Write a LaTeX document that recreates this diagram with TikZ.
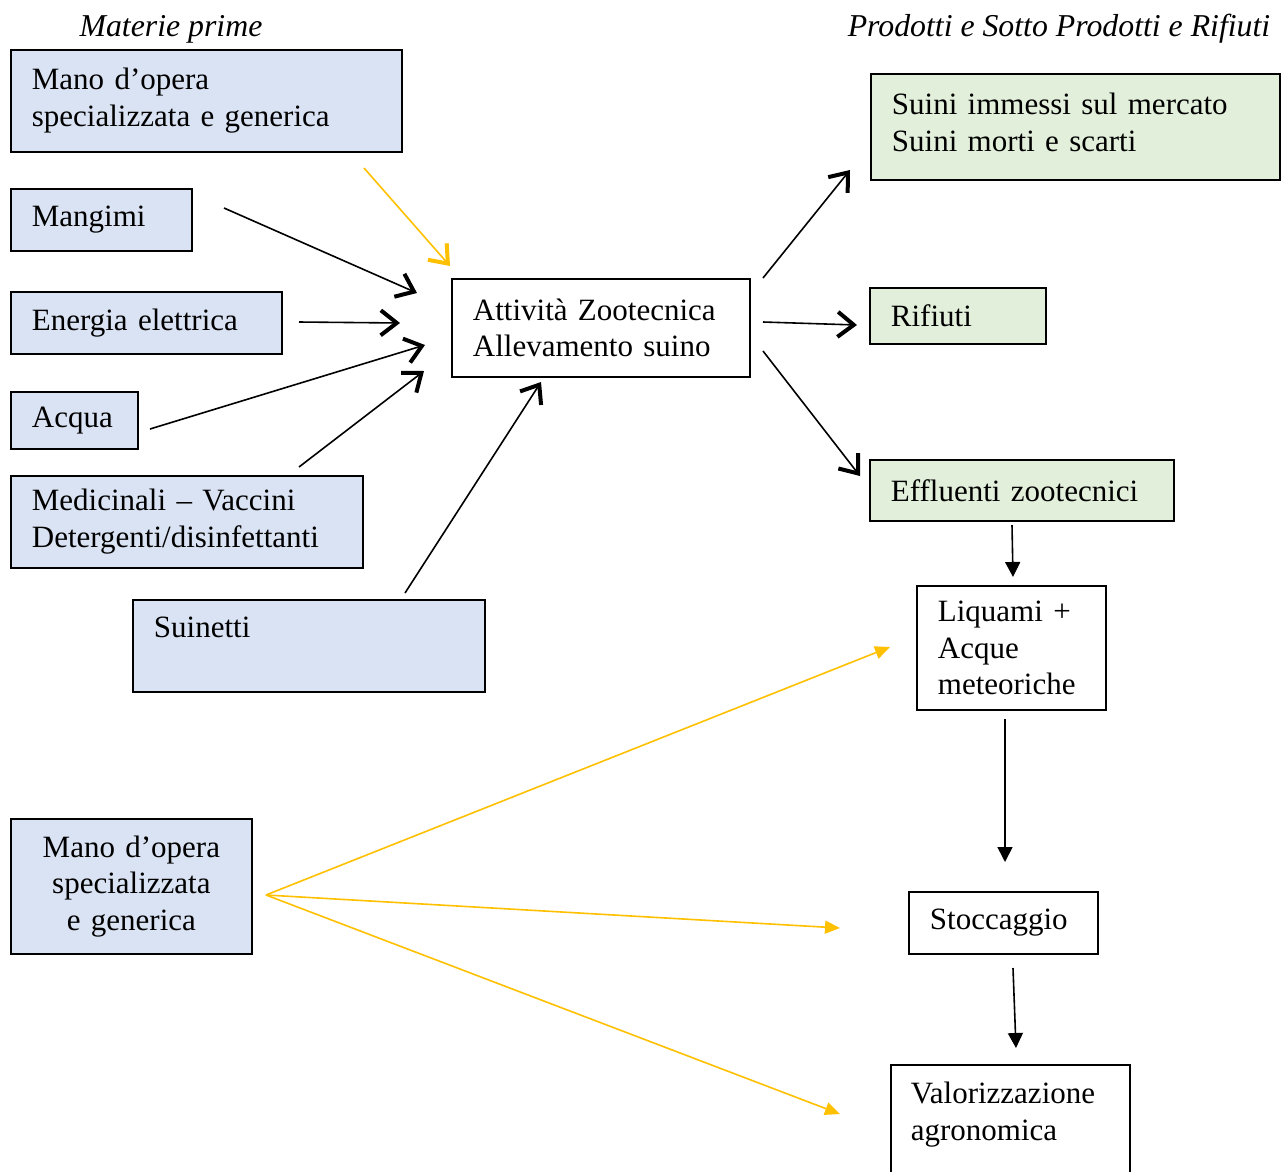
\documentclass[tikz,border=0pt]{standalone}
\usepackage{fontspec}
\setmainfont{Liberation Serif}
\usetikzlibrary{arrows.meta}
\definecolor{bluebox}{HTML}{DAE3F3}
\definecolor{greenbox}{HTML}{E2EFDA}
\definecolor{ylw}{HTML}{FFC000}
\begin{document}
\begin{tikzpicture}[x=1pt,y=-1pt,
  bx/.style={draw, line width=1.8pt, anchor=north west, inner xsep=21pt, inner ysep=0pt,
    align=left, font=\fontsize{31}{36.8}\selectfont},
  inbox/.style={bx, fill=bluebox},
  outbox/.style={bx, fill=greenbox},
  hdr/.style={font=\fontsize{31.8}{36}\selectfont\itshape, inner sep=0pt},
  barb/.style={line width=1.6pt, -{Straight Barb[length=16pt,width=25pt,line width=4pt]}},
  tri/.style={line width=1.6pt, -{Triangle[length=15pt,width=15pt]}},
  ytri/.style={draw=ylw, line width=1.6pt, -{Triangle[length=15pt,width=13pt]}, ylw}
]
\useasboundingbox (0,0) rectangle (1286,1171);
\clip (0,0) rectangle (1286,1171);

\node[hdr] (h1) at (171,29) {Materie prime};
\node[hdr] (h2) at (1059,29) {Prodotti e Sotto Prodotti e Rifiuti};

\node[inbox, minimum width=391pt, text width=349pt, minimum height=102pt] (m1) at (10,49) {Mano d’opera\\specializzata e generica};
\node[inbox, minimum width=181pt, text width=139pt, minimum height=62pt] (mang) at (10,188) {Mangimi};
\node[inbox, minimum width=271pt, text width=229pt, minimum height=62pt] (en) at (10,291) {Energia elettrica};
\node[inbox, minimum width=127pt, text width=85pt, minimum height=57pt] (acq) at (10,391) {Acqua};
\node[inbox, minimum width=352pt, text width=310pt, minimum height=92pt] (med) at (10,475) {Medicinali – Vaccini\\Detergenti/disinfettanti};
\node[inbox, minimum width=352pt, text width=310pt, minimum height=92pt] (suin) at (132,599) {Suinetti\\\mbox{}};
\node[bx, fill=white, minimum width=298pt, text width=256pt, minimum height=98pt] (att) at (451,278) {Attività Zootecnica\\Allevamento suino};

\node[outbox, minimum width=409pt, text width=367pt, minimum height=106pt] (sui) at (870,73) {Suini immessi sul mercato\\Suini morti e scarti\\[-26.8pt]\mbox{}};
\node[outbox, minimum width=176pt, text width=134pt, minimum height=56pt] (rif) at (869,287) {Rifiuti};
\node[outbox, minimum width=304pt, text width=262pt, minimum height=61pt] (eff) at (869,459) {Effluenti zootecnici};

\node[bx, minimum width=189pt, text width=147pt, minimum height=124pt] (liq) at (916,585) {Liquami +\\Acque\\meteoriche};
\node[bx, minimum width=189pt, text width=147pt, minimum height=62pt] (sto) at (908,891) {Stoccaggio};
\node[bx, minimum width=239pt, text width=199pt, inner xsep=20pt, minimum height=130pt] (val) at (890,1064) {Valorizzazione\\agronomica\\\mbox{}};

\node[inbox, align=center, minimum width=241pt, text width=199pt, minimum height=135pt] (m2) at (10,818) {Mano d’opera\\specializzata\\e generica};

% connector ends
\coordinate (ym1s) at (364,168);  \coordinate (ym1e) at (450,266);
\coordinate (mangs) at (224,208); \coordinate (mange) at (417,293);
\coordinate (ens) at (299,322);   \coordinate (ene) at (400,323);
\coordinate (acqs) at (150,429);  \coordinate (acqe) at (425,345);
\coordinate (meds) at (299,467);  \coordinate (mede) at (424,371);
\coordinate (suins) at (405,593); \coordinate (suine) at (541,382);
\coordinate (o1s) at (763,278);   \coordinate (o1e) at (850,170);
\coordinate (o2s) at (763,322);   \coordinate (o2e) at (857,325);
\coordinate (o3s) at (763,351);   \coordinate (o3e) at (860,476);
\coordinate (els) at (1012,525);  \coordinate (ele) at (1013,577);
\coordinate (lss) at (1005,719);  \coordinate (lse) at (1005,862);
\coordinate (svs) at (1013,968);  \coordinate (sve) at (1016,1048);
\coordinate (m2s) at (266,895);
\coordinate (y1e) at (890,647);
\coordinate (y2e) at (840,928);
\coordinate (y3e) at (840,1114);

\draw[barb, draw=ylw, color=ylw] (ym1s) -- (ym1e);
\draw[barb] (mangs) -- (mange);
\draw[barb] (ens) -- (ene);
\draw[barb] (acqs) -- (acqe);
\draw[barb] (meds) -- (mede);
\draw[barb] (suins) -- (suine);
\draw[barb] (o1s) -- (o1e);
\draw[barb] (o2s) -- (o2e);
\draw[barb] (o3s) -- (o3e);

\draw[tri] (els) -- (ele);
\draw[tri] (lss) -- (lse);
\draw[tri] (svs) -- (sve);

\draw[ytri] (m2s) -- (y1e);
\draw[ytri] (m2s) -- (y2e);
\draw[ytri] (m2s) -- (y3e);
\end{tikzpicture}
\end{document}
